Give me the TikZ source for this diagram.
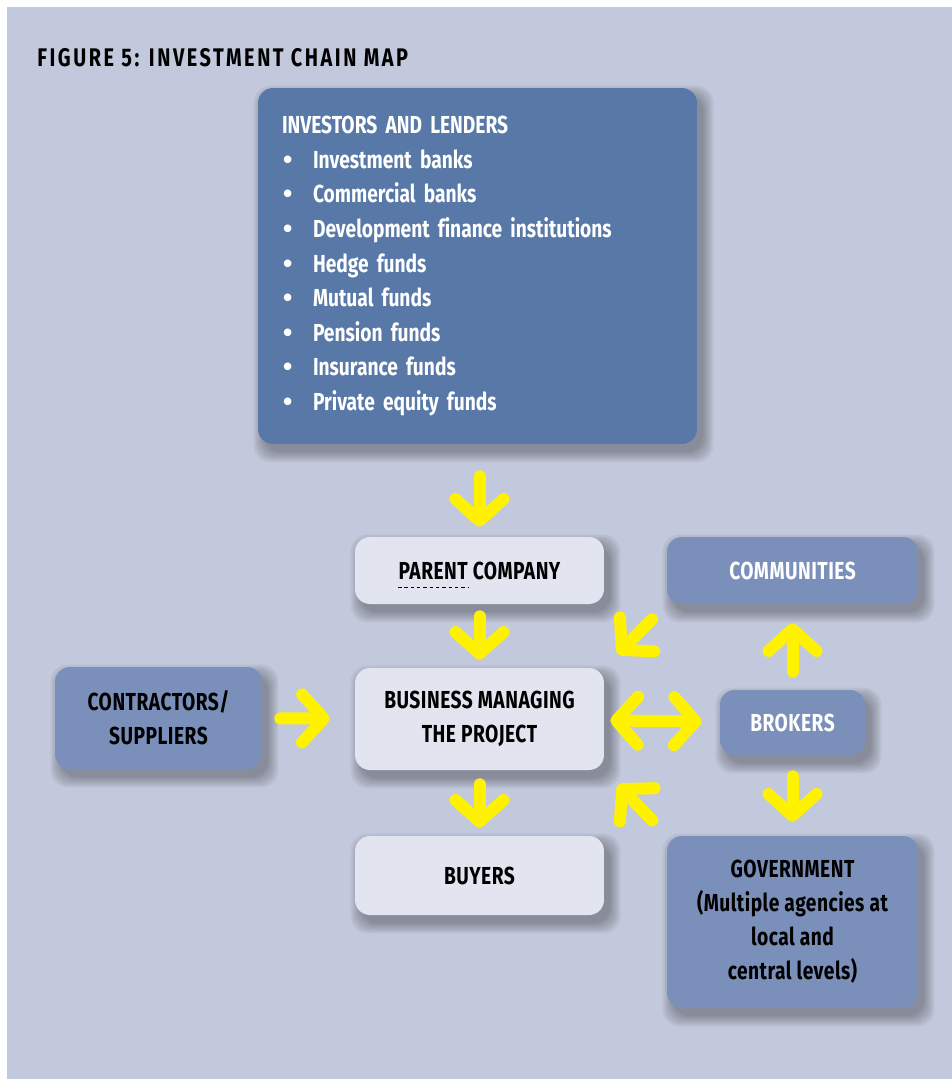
\documentclass[tikz,border=0pt]{standalone}
\usepackage{fontspec}
\setmainfont{Fira Sans}[FakeStretch=0.78,Ligatures=NoCommon]
\newfontfamily\titlefont{Fira Sans}[FakeStretch=0.78,LetterSpace=10]
\newfontfamily\headfont{Fira Sans}[FakeStretch=0.78,LetterSpace=2]
\newfontfamily\bulletfont{Liberation Sans}
\usetikzlibrary{arrows.meta,positioning,backgrounds}
\definecolor{chartbg}{HTML}{C3C9DC}
\definecolor{darkbox}{HTML}{5878A8}
\definecolor{midbox}{HTML}{7A90BA}
\definecolor{lightbox}{HTML}{E2E5F0}
\definecolor{flowyellow}{HTML}{FFF200}
\newcommand{\itm}{\makebox[0.62cm][l]{\hspace{0.02cm}{\bulletfont\bfseries\fontsize{15}{15}\selectfont •}}}

\tikzset{
  boxbase/.style={rectangle,rounded corners=0.3cm,align=center,inner sep=0pt,
    font=\headfont\bfseries\fontsize{14}{19.3}\selectfont},
  darkstyle/.style={boxbase,fill=darkbox,text=white},
  midstyle/.style={boxbase,fill=midbox},
  lightstyle/.style={boxbase,fill=lightbox,text=black},
  flow/.style={draw=flowyellow,line width=0.24cm,line cap=round,
    -{Straight Barb[length=0pt 1.8,width=0pt 4,round]}},
  twoflow/.style={flow,{Straight Barb[length=0pt 1.8,width=0pt 4,round]}-{Straight Barb[length=0pt 1.8,width=0pt 4,round]}}
}

\begin{document}
\begin{tikzpicture}[x=0.02cm,y=-0.02cm]
  \useasboundingbox (0,0) rectangle (952,1079);

  % title
  \node[anchor=base west,inner sep=0pt,font=\titlefont\bfseries\fontsize{14.5}{16}\selectfont] (title) at (37,66) {FIGURE 5: INVESTMENT CHAIN MAP};

  % investors box
  \node[darkstyle,align=left,minimum width=8.78cm,minimum height=7.12cm,text width=7.82cm,
        font=\bfseries\fontsize{14}{19.7}\selectfont] (inv) at (477.5,266) {%
    INVESTORS AND LENDERS\\
    \itm Investment banks\\
    \itm Commercial banks\\
    \itm Development finance institutions\\
    \itm Hedge funds\\
    \itm Mutual funds\\
    \itm Pension funds\\
    \itm Insurance funds\\
    \itm Private equity funds};

  % chain
  \node[lightstyle,minimum width=4.98cm,minimum height=1.34cm] (parent) at (479.5,570.5) {PARENT COMPANY};
  \node[lightstyle,minimum width=4.98cm,minimum height=2.04cm] (biz) at (479.5,719) {BUSINESS MANAGING\\THE PROJECT};
  \node[lightstyle,minimum width=4.98cm,minimum height=1.58cm] (buyers) at (479.5,875.5) {BUYERS};
  \node[midstyle,text=black,minimum width=4.14cm,minimum height=2.04cm] (contr) at (158.5,718) {CONTRACTORS/\\SUPPLIERS};
  \node[midstyle,text=white,minimum width=5.02cm,minimum height=1.34cm] (comm) at (792.5,570.5) {COMMUNITIES};
  \node[midstyle,text=white,minimum width=2.9cm,minimum height=1.3cm] (brok) at (792.5,722.5) {BROKERS};
  \node[midstyle,text=black,minimum width=5.02cm,minimum height=3.44cm] (gov) at (792.5,922) {GOVERNMENT\\(Multiple agencies at\\local and\\central levels)};

  \draw[dash pattern=on 2pt off 1.6pt,line width=0.6pt] ([shift={(-81.5,17)}]parent.center) -- ([shift={(-11.5,17)}]parent.center);

  % soft shadows behind the boxes
  \begin{scope}[on background layer]
    \fill[chartbg] (7,7) rectangle (952,1079);
    \foreach \n in {inv,parent,biz,buyers,contr,comm,brok,gov}{
      \foreach \g in {0,...,5}{
        \fill[black,opacity=0.055,rounded corners=0.34cm]
          ([shift={(6-2*\g,8-2*\g)}]\n.north west) rectangle ([shift={(6+2*\g,8+2*\g)}]\n.south east);
      }
    }
  \end{scope}

  % arrows
  \draw[flow,shorten <=0.64cm,shorten >=0.2cm] (inv.south -| parent) -- (parent);
  \draw[flow,shorten <=0.24cm,shorten >=0.16cm] (parent) -- (biz);
  \draw[flow,shorten <=0.28cm,shorten >=0.16cm] (biz) -- (buyers);
  \draw[flow,shorten <=0.36cm,shorten >=0.5cm] (contr) -- (biz);
  \draw[twoflow,shorten <=0.12cm,shorten >=0.36cm] (biz) -- (brok);
  \draw[flow,shorten <=0.36cm,shorten >=0.38cm] (brok) -- (comm);
  \draw[flow,shorten <=0.42cm,shorten >=0.28cm] (brok) -- (gov);
  \draw[flow,shorten <=0.42cm,shorten >=0.38cm] (comm.south west) -- (biz.north east);
  \draw[flow,shorten <=0.42cm,shorten >=0.4cm] (gov.north west) -- (biz.south east);
\end{tikzpicture}
\end{document}
